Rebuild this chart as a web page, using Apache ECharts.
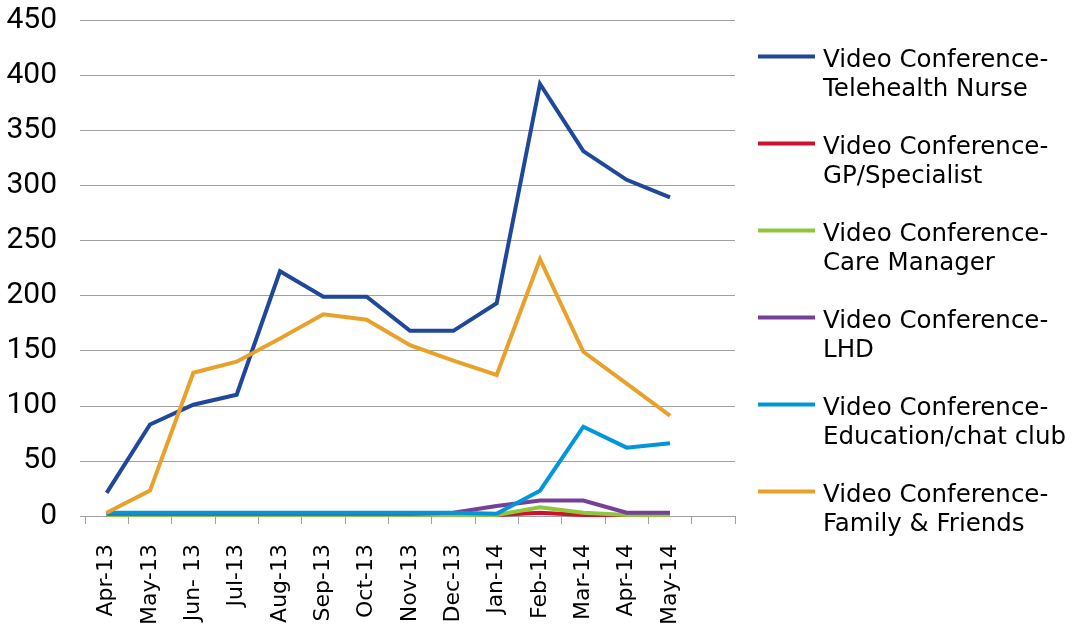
<!DOCTYPE html>
<html>
<head>
<meta charset="utf-8">
<title>Video Conference</title>
<script src="https://cdn.jsdelivr.net/npm/echarts@6/dist/echarts.min.js"></script>
<style>
  html, body { margin: 0; padding: 0; background: #fff; }
  #main { width: 1074px; height: 629px; }
</style>
</head>
<body>
<div id="main"></div>
<script>
'use strict';

// months on the x axis (last slot is left empty, as in the original)
var months = ['Apr-13', 'May-13', 'Jun- 13', 'Jul-13', 'Aug-13', 'Sep-13', 'Oct-13',
  'Nov-13', 'Dec-13', 'Jan-14', 'Feb-14', 'Mar-14', 'Apr-14', 'May-14', ''];

var seriesNames = [
  'Video Conference-\nTelehealth Nurse',
  'Video Conference-\nGP/Specialist',
  'Video Conference-\nCare Manager',
  'Video Conference-\nLHD',
  'Video Conference-\nEducation/chat club',
  'Video Conference-\nFamily & Friends'
];

var telehealthNurse = [21, 83, 101, 110, 222, 199, 199, 168, 168, 193, 392, 331, 305, 289];
var gpSpecialist = [1, 1, 1, 1, 1, 1, 1, 1, 1, 1, 3, 1, 1, 1];
var careManager = [1, 1, 1, 1, 1, 1, 1, 1, 1, 1, 8, 3, 1, 1];
var lhd = [2, 2, 2, 2, 2, 2, 2, 2, 3, 9, 14, 14, 3, 3];
var educationChat = [3, 3, 3, 3, 3, 3, 3, 3, 3, 2, 23, 81, 62, 66];
var familyFriends = [3, 23, 130, 140, 161, 183, 178, 155, 141, 128, 233, 149, 120, 91];

var yTicks = { min: 0, max: 450, step: 50 };

var colors = ['#1f479a', '#d0112b', '#8dc63f', '#763f98', '#0096d8', '#e8a22c'];
var allData = [telehealthNurse, gpSpecialist, careManager, lhd, educationChat, familyFriends];

// legend swatch: bar at the top of a 60x41 box so it lines up with the first text line
var legendIcon = 'path://M0,0L57,0L57,4L0,4ZM60,41L60,41Z';

var myChart = echarts.init(document.getElementById('main'));

var series = seriesNames.map(function (name, i) {
  return {
    name: name,
    type: 'line',
    data: allData[i],
    symbol: 'none',
    showSymbol: false,
    lineStyle: { width: 4, color: colors[i], cap: 'butt', join: 'miter' },
    itemStyle: { color: colors[i] },
    emphasis: { disabled: true }
  };
});

var option = {
  animation: false,
  backgroundColor: '#fff',
  color: colors,
  grid: {
    left: 85,
    right: 339,
    top: 20,
    bottom: 113,
    containLabel: false,
    outerBoundsMode: 'none'
  },
  legend: {
    orient: 'vertical',
    left: 753,
    top: 41,
    padding: 5,
    itemWidth: 60,
    itemHeight: 41,
    itemGap: 29,
    icon: legendIcon,
    itemStyle: { borderWidth: 0 },
    data: seriesNames,
    textStyle: {
      fontFamily: 'DejaVu Sans',
      fontSize: 24.5,
      lineHeight: 29,
      color: '#000'
    }
  },
  xAxis: {
    type: 'category',
    data: months,
    boundaryGap: true,
    axisLine: { show: true, lineStyle: { color: '#a0a0a0', width: 1 } },
    axisTick: { show: true, length: 8, interval: 0, lineStyle: { color: '#a0a0a0' } },
    axisLabel: {
      interval: 0,
      rotate: 90,
      margin: 28,
      fontFamily: 'DejaVu Sans',
      fontSize: 22,
      color: '#000'
    },
    splitLine: { show: false }
  },
  yAxis: {
    type: 'value',
    min: yTicks.min,
    max: yTicks.max,
    interval: yTicks.step,
    axisLine: { show: false },
    axisTick: { show: true, length: 5, lineStyle: { color: '#a0a0a0' } },
    axisLabel: {
      margin: 28,
      fontFamily: 'Roboto',
      fontSize: 30,
      color: '#000'
    },
    splitLine: { show: true, lineStyle: { color: '#a0a0a0', width: 1 } }
  },
  series: series
};

myChart.setOption(option);
</script>
</body>
</html>
